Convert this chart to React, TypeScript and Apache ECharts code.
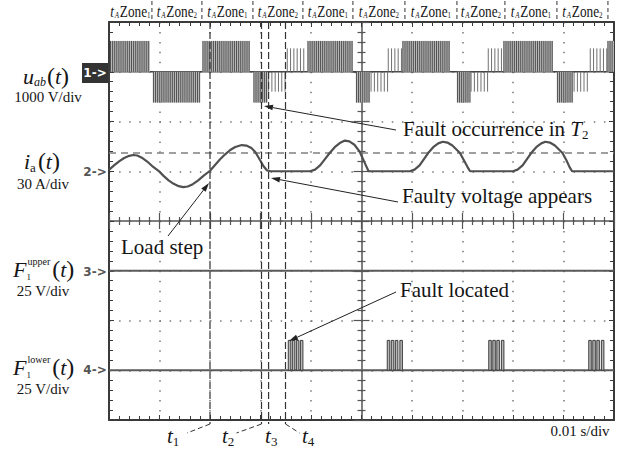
import React, { useEffect, useRef } from "react";
import * as echarts from "echarts";

// ---------------- axes (time in ms, screen in divisions) ----------------
const TIME_MIN = 0;
const TIME_MAX = 100; // 10 div x 10 ms (0.01 s/div)
const TIME_STEP = 10;
const DIV_MIN = 0;
const DIV_MAX = 8;

// ---------------- channel settings ----------------
const CH1 = { offset: 7, perDiv: 1000 }; // u_ab  1000 V/div
const CH2 = { offset: 5, perDiv: 30 }; // i_a   30 A/div
const CH3 = { offset: 3, perDiv: 25 }; // F1 upper 25 V/div
const CH4 = { offset: 1, perDiv: 25 }; // F1 lower 25 V/div

// ---------------- data ----------------
// u_ab PWM blocks: [start ms, end ms, pulse level V]
const uabBlocks: [number, number, number][] = [
  [0.2, 8.1, 620],
  [8.7, 18.0, -620],
  [18.5, 27.9, 620],
  [28.6, 31.4, -620],
  [31.5, 35.2, -400],
  [35.2, 39.2, 470],
  [39.3, 48.3, 620],
  [48.9, 51.7, -620],
  [51.8, 55.2, -400],
  [55.2, 58.0, 470],
  [58.1, 67.5, 620],
  [68.9, 71.5, -620],
  [71.6, 75.0, -400],
  [75.0, 78.0, 470],
  [78.1, 87.9, 620],
  [88.7, 91.9, -620],
  [92.0, 95.2, -400],
  [95.2, 98.6, 470],
  [98.7, 100, 620],
];
const TALL_LEVEL = 550; // V, blocks above this are drawn dense

// i_a samples: [ms, A]
const iaPoints: [number, number][] = [
  [0, 0.8], [1, 3.5], [2, 6.0], [3, 8.0], [4, 9.3], [4.8, 9.8], [5.6, 9.5], [6.5, 8.2], [7.5, 6.0], [8.5, 3.3], [9.8, 0.3],
  [10.8, -2.8], [11.8, -5.5], [12.8, -7.6], [13.8, -9.0], [14.7, -9.6], [15.6, -9.2], [16.6, -7.8], [17.6, -5.6], [18.7, -2.8], [20.0, 0.3],
  [21.0, 3.8], [22.0, 7.2], [23.0, 10.2], [24.0, 12.8], [25.0, 14.6], [26.3, 15.8], [27.2, 15.5], [28.2, 14.0], [29.0, 11.5], [29.9, 6.8], [30.6, 3.0], [31.3, 0.5], [32.0, 0],
  [39.8, 0], [40.8, 1.0], [41.8, 3.5], [42.8, 7.5], [43.7, 11.0], [44.7, 14.5], [45.7, 17.0], [46.7, 18.5], [47.6, 18.0], [48.6, 16.0], [49.6, 12.0], [50.2, 8.0], [50.8, 4.0], [51.4, 0],
  [59.6, 0], [60.5, 1.0], [61.5, 3.5], [62.4, 7.5], [63.2, 11.0], [64.2, 14.5], [65.2, 16.8], [66.1, 17.8], [67.0, 17.3], [68.0, 15.5], [69.0, 12.5], [69.5, 11.0], [70.3, 6.5], [71.0, 2.5], [71.5, 0],
  [80.0, 0], [80.9, 1.0], [81.9, 3.5], [82.8, 7.5], [83.6, 11.0], [84.6, 14.5], [85.6, 16.8], [86.4, 17.8], [87.3, 17.3], [88.3, 15.5], [89.3, 12.5], [89.8, 11.0], [90.6, 6.5], [91.2, 2.5], [91.7, 0],
  [100, 0],
];
const iaCursor = 11; // A, horizontal dashed cursor

// F1 upper: flat at 0 V
const fUpperPoints: [number, number][] = [[0, 0], [100, 0]];
// F1 lower: baseline 0 V with pulses [start ms, end ms, level V]
const fLowerBase: [number, number][] = [[0, 0], [100, 0]];
const fLowerPulses: [number, number, number][] = [
  [35.5, 36.0, 15], [36.3, 36.8, 15], [37.1, 37.6, 15], [37.9, 38.4, 15],
  [55.1, 55.6, 15], [55.9, 56.4, 15], [56.7, 57.2, 15], [57.6, 58.1, 15],
  [75.2, 75.7, 15], [76.0, 76.5, 15], [76.8, 77.3, 15], [77.7, 78.2, 15],
  [95.0, 95.5, 15], [95.8, 96.3, 15], [96.6, 97.1, 15], [97.5, 98.0, 15],
];

// header zones
const zoneBounds = [0, 8.5, 18.4, 28.5, 38.4, 48.3, 58.6, 68.9, 78.4, 88.7, 98.8];
const zoneIds = [1, 2, 1, 2, 1, 2, 1, 2, 1, 2];

// time markers t1..t4 (ms)
const tMarkerTimes = [20.0, 30.2, 31.6, 34.95];
const tMarkerNames = ["1", "2", "3", "4"];

// ---------------- styles ----------------
const SERIF = '"Liberation Serif", "DejaVu Serif", serif';
const LEADER_DX = [-23, -25, 0, 14];
const LABEL_DX = [-43, -39.5, -3.5, 16.5];
const ZONE_SCALE_X = 0.78;

let measureCtx: CanvasRenderingContext2D | null = null;
function textWidth(text: string, font: string): number {
  if (!measureCtx) measureCtx = document.createElement("canvas").getContext("2d");
  if (!measureCtx) return text.length * 8;
  measureCtx.font = font;
  return measureCtx.measureText(text).width;
}

type Piece = { text: string; size: number; italic?: boolean; dy?: number; dx?: number; noAdvance?: boolean };

function fontOf(p: Piece) {
  return `${p.italic ? "italic " : ""}${p.size}px ${SERIF}`;
}

function composeText(x0: number, y: number, pieces: Piece[], fill = "#151515", z = 100) {
  let x = x0;
  const els: any[] = [];
  for (const p of pieces) {
    const font = fontOf(p);
    const px = x + (p.dx ?? 0);
    els.push({
      type: "text",
      z,
      style: {
        text: p.text, x: px, y: y + (p.dy ?? 0), font, fill,
        textAlign: "left", textVerticalAlign: "middle", align: "left", verticalAlign: "middle",
      },
    });
    if (!p.noAdvance) x = px + textWidth(p.text, font);
  }
  return els;
}

function piecesWidth(pieces: Piece[]) {
  let x = 0;
  for (const p of pieces) {
    const px = x + (p.dx ?? 0);
    if (!p.noAdvance) x = px + textWidth(p.text, fontOf(p));
  }
  return x;
}

function arrow(tail: [number, number], tip: [number, number]) {
  const dx = tip[0] - tail[0];
  const dy = tip[1] - tail[1];
  const len = Math.hypot(dx, dy);
  const ux = dx / len, uy = dy / len;
  const L = 9, Wd = 2.8;
  const bx = tip[0] - ux * L, by = tip[1] - uy * L;
  return [
    { type: "line", z: 100, shape: { x1: tail[0], y1: tail[1], x2: bx, y2: by }, style: { stroke: "#222", lineWidth: 1 } },
    {
      type: "polygon", z: 100,
      shape: { points: [[tip[0], tip[1]], [bx - uy * Wd, by + ux * Wd], [bx + uy * Wd, by - ux * Wd]] },
      style: { fill: "#222" },
    },
  ];
}

const toDiv = (ch: { offset: number; perDiv: number }, pts: [number, number][]) =>
  pts.map(([t, v]) => [t, ch.offset + v / ch.perDiv]);

// ---------------- render items ----------------
function renderPwm(_params: any, api: any) {
  const t0 = api.value(0), t1 = api.value(1), lvl = api.value(2);
  const p0 = api.coord([t0, CH1.offset]);
  const p1 = api.coord([t1, CH1.offset + lvl / CH1.perDiv]);
  const x0 = p0[0], x1 = p1[0], yb = p0[1], yt = p1[1];
  const tall = Math.abs(lvl) >= TALL_LEVEL;
  const children: any[] = [];
  if (tall) {
    children.push({
      type: "rect",
      shape: { x: x0, y: Math.min(yb, yt), width: x1 - x0, height: Math.abs(yt - yb) },
      style: { fill: "#b8b8b8" },
    });
  }
  const step = tall ? 2.1 : 3.3;
  for (let x = x0 + 0.5; x <= x1; x += step) {
    children.push({
      type: "line",
      shape: { x1: x, y1: yb, x2: x, y2: yt },
      style: { stroke: tall ? "#505050" : "#707070", lineWidth: 1 },
    });
  }
  return { type: "group", children };
}

function renderPulse(_params: any, api: any) {
  const p0 = api.coord([api.value(0), CH4.offset]);
  const p1 = api.coord([api.value(1), CH4.offset + api.value(2) / CH4.perDiv]);
  return {
    type: "rect",
    shape: { x: p0[0], y: p1[1], width: p1[0] - p0[0], height: p0[1] - p1[1] },
    style: { fill: "#b8b8b8", stroke: "#3c3c3c", lineWidth: 1 },
  };
}

function renderZone(_params: any, api: any) {
  const t0 = api.value(0), t1 = api.value(1), id = api.value(2);
  const a = api.coord([t0, DIV_MAX]);
  const b = api.coord([t1, DIV_MAX]);
  const top = a[1];
  const cx = (a[0] + b[0]) / 2;
  const pieces: Piece[] = [
    { text: "t", size: 17, italic: true },
    { text: "A", size: 9, italic: true, dy: 4, dx: 1 },
    { text: "Zone", size: 17, dx: 1 },
    { text: String(id), size: 9, dy: 4 },
  ];
  const w = piecesWidth(pieces) * ZONE_SCALE_X;
  const label = {
    type: "group",
    x: cx - w / 2,
    y: top - 11,
    scaleX: ZONE_SCALE_X,
    children: composeText(0, 0, pieces, "#151515", 10),
  };
  const divider = {
    type: "line",
    shape: { x1: b[0], y1: top - 21, x2: b[0], y2: top },
    style: { stroke: "#333", lineWidth: 1, lineDash: [4, 3] },
  };
  return { type: "group", children: [label, divider] };
}

function renderMarker(params: any, api: any) {
  const i = params.dataIndex;
  const t = api.value(0);
  const top = api.coord([t, DIV_MAX]);
  const bot = api.coord([t, DIV_MIN]);
  const x = top[0];
  const yEnd = bot[1] + 4;
  const children: any[] = [
    { type: "line", shape: { x1: x, y1: top[1], x2: x, y2: yEnd }, style: { stroke: "#333", lineWidth: 1.2, lineDash: [7, 3] } },
  ];
  if (LEADER_DX[i] !== 0) {
    children.push({
      type: "line",
      shape: { x1: x, y1: yEnd, x2: x + LEADER_DX[i], y2: yEnd + 9 },
      style: { stroke: "#333", lineWidth: 1, lineDash: [5, 3] },
    });
  }
  children.push(
    ...composeText(x + LABEL_DX[i], bot[1] + 16, [
      { text: "t", size: 21, italic: true },
      { text: tMarkerNames[i], size: 13, dy: 5 },
    ])
  );
  return { type: "group", children };
}

// ---------------- component ----------------
export default function App() {
  const ref = useRef<HTMLDivElement | null>(null);

  useEffect(() => {
    if (!ref.current) return;
    const chart = echarts.init(ref.current, undefined, { renderer: "svg" });

    const frameColor = "#3a3a3a";
    const xBase = {
      type: "value", min: TIME_MIN, max: TIME_MAX, interval: TIME_STEP,
      axisLabel: { show: false }, splitLine: { show: false },
    };
    const yBase = {
      type: "value", min: DIV_MIN, max: DIV_MAX, interval: 1,
      axisLabel: { show: false }, splitLine: { show: false },
    };
    const frameLine = { show: true, onZero: false, lineStyle: { color: frameColor, width: 2 } };
    const frameTick = { show: true, inside: true, length: 5, lineStyle: { color: frameColor, width: 1 } };
    const frameMinor = { show: true, splitNumber: 5, length: 4, lineStyle: { color: frameColor, width: 1 } };
    const centerLine = { show: true, onZero: false, lineStyle: { color: "#555", width: 1.5 } };
    const noLine = { show: false, onZero: false };
    const centerTickIn = { show: true, inside: true, length: 8, lineStyle: { color: "#555", width: 1.2 } };
    const centerTickOut = { show: true, inside: false, length: 8, lineStyle: { color: "#555", width: 1.2 } };
    const centerMinor = { show: true, splitNumber: 5, length: 4, lineStyle: { color: "#555", width: 1.2 } };

    const zoneData = zoneIds.map((id, k) => [zoneBounds[k], zoneBounds[k + 1], id]);
    const markerData = tMarkerTimes.map((t) => [t]);

    const centered = (text: string, x: number, y: number, size = 15) => ({
      type: "text", z: 100,
      style: { text, x, y, font: `${size}px ${SERIF}`, fill: "#151515", textAlign: "center", textVerticalAlign: "middle", align: "center", verticalAlign: "middle" },
    });

    const graphics: any[] = [];
    // channel labels
    graphics.push(
      ...composeText(23, 76, [
        { text: "u", size: 22, italic: true },
        { text: "ab", size: 12, italic: true, dy: 6 },
        { text: "(", size: 24, dx: 1 },
        { text: "t", size: 22, italic: true },
        { text: ")", size: 24 },
      ])
    );
    graphics.push(centered("1000 V/div", 48, 97));
    graphics.push(
      ...composeText(24, 161, [
        { text: "i", size: 22, italic: true },
        { text: "a", size: 13, dy: 6 },
        { text: "(", size: 24, dx: 2 },
        { text: "t", size: 22, italic: true },
        { text: ")", size: 24 },
      ])
    );
    graphics.push(centered("30 A/div", 43, 184));
    const fLabel = (y: number, sup: string) =>
      composeText(13, y, [
        { text: "F", size: 22, italic: true },
        { text: "1", size: 9, dy: 8, dx: 0, noAdvance: true },
        { text: sup, size: 10, dy: -8, dx: 1 },
        { text: "(", size: 24, dx: 2 },
        { text: "t", size: 22, italic: true },
        { text: ")", size: 24 },
      ]);
    graphics.push(...fLabel(269, "upper"));
    graphics.push(centered("25 V/div", 43, 291));
    graphics.push(...fLabel(367, "lower"));
    graphics.push(centered("25 V/div", 43, 389));

    // channel markers
    graphics.push({ type: "rect", z: 100, shape: { x: 82, y: 63, width: 26, height: 20 }, style: { fill: "#333" } });
    const marker = (txt: string, y: number, fill: string) => ({
      type: "text", z: 101,
      style: { text: txt, x: 95, y, font: `bold 12px "DejaVu Sans", sans-serif`, fill, textAlign: "center", textVerticalAlign: "middle", align: "center", verticalAlign: "middle" },
    });
    graphics.push(marker("1->", 73, "#fff"));
    graphics.push(marker("2->", 172, "#555"));
    graphics.push(marker("3->", 272, "#555"));
    graphics.push(marker("4->", 370, "#555"));

    // annotations
    graphics.push(...composeText(403, 129, [
      { text: "Fault occurrence in ", size: 21 },
      { text: "T", size: 21, italic: true },
      { text: "2", size: 13, dy: 5 },
    ]));
    graphics.push(...arrow([396, 130], [264, 106]));
    graphics.push(...composeText(402, 196, [{ text: "Faulty voltage appears", size: 21 }]));
    graphics.push(...arrow([398, 202], [271, 178]));
    graphics.push(...composeText(121, 247, [{ text: "Load step", size: 21 }]));
    graphics.push(...arrow([168, 236], [209, 183]));
    graphics.push(...composeText(400, 290, [{ text: "Fault located", size: 21 }]));
    graphics.push(...arrow([396, 292], [289, 341]));
    graphics.push(centered("0.01 s/div", 580, 431));

    const option: any = {
      animation: false,
      backgroundColor: "#ffffff",
      grid: { left: 109, top: 22, width: 505, height: 398, containLabel: false, outerBoundsMode: "none" },
      xAxis: [
        {
          ...xBase, position: "bottom", axisLine: frameLine, axisTick: frameTick, minorTick: frameMinor,
          splitLine: { show: true, lineStyle: { color: "#777", width: 1.5, type: [1.5, 8.45] } },
        },
        { ...xBase, position: "top", axisLine: frameLine, axisTick: frameTick, minorTick: frameMinor },
        { ...xBase, position: "bottom", offset: -199, axisLine: centerLine, axisTick: centerTickIn, minorTick: centerMinor },
        { ...xBase, position: "bottom", offset: -199, axisLine: noLine, axisTick: centerTickOut, minorTick: centerMinor },
      ],
      yAxis: [
        {
          ...yBase, position: "left", axisLine: frameLine, axisTick: frameTick, minorTick: frameMinor,
          splitLine: { show: true, lineStyle: { color: "#777", width: 1.5, type: [1.5, 8.6] } },
        },
        { ...yBase, position: "right", axisLine: frameLine, axisTick: frameTick, minorTick: frameMinor },
        { ...yBase, position: "left", offset: -252.5, axisLine: centerLine, axisTick: centerTickIn, minorTick: centerMinor },
        { ...yBase, position: "left", offset: -252.5, axisLine: noLine, axisTick: centerTickOut, minorTick: centerMinor },
      ],
      series: [
        {
          name: "u_ab baseline", type: "line", data: toDiv(CH1, [[TIME_MIN, 0], [TIME_MAX, 0]]),
          symbol: "none", lineStyle: { color: "#444", width: 1.5 }, z: 3,
        },
        {
          name: "u_ab", type: "custom", renderItem: renderPwm, data: uabBlocks,
          encode: { x: [0, 1], y: 2 }, clip: false, z: 4,
        },
        {
          name: "i_a", type: "line", data: toDiv(CH2, iaPoints), symbol: "none",
          lineStyle: { color: "#505050", width: 2.2 }, z: 5,
          markLine: {
            silent: true, symbol: "none", label: { show: false },
            lineStyle: { color: "#808080", width: 1.5, type: [7, 5] },
            data: [{ yAxis: CH2.offset + iaCursor / CH2.perDiv }],
          },
        },
        {
          name: "F1 upper", type: "line", data: toDiv(CH3, fUpperPoints), symbol: "none",
          lineStyle: { color: "#5a5a5a", width: 2 }, z: 5,
        },
        {
          name: "F1 lower", type: "line", data: toDiv(CH4, fLowerBase), symbol: "none",
          lineStyle: { color: "#5a5a5a", width: 2 }, z: 5,
        },
        {
          name: "F1 lower pulses", type: "custom", renderItem: renderPulse, data: fLowerPulses,
          encode: { x: [0, 1], y: 2 }, clip: false, z: 6,
        },
        {
          name: "zones", type: "custom", renderItem: renderZone, data: zoneData,
          encode: { x: [0, 1], y: 2 }, clip: false, z: 6,
        },
        {
          name: "markers", type: "custom", renderItem: renderMarker, data: markerData,
          encode: { x: 0 }, clip: false, z: 7,
        },
      ],
      graphic: { elements: graphics },
    };

    chart.setOption(option);
    return () => chart.dispose();
  }, []);

  return (
    <div
      ref={ref}
      style={{ position: "absolute", left: 0, top: 0, width: 631, height: 450, background: "#fff" }}
    />
  );
}
